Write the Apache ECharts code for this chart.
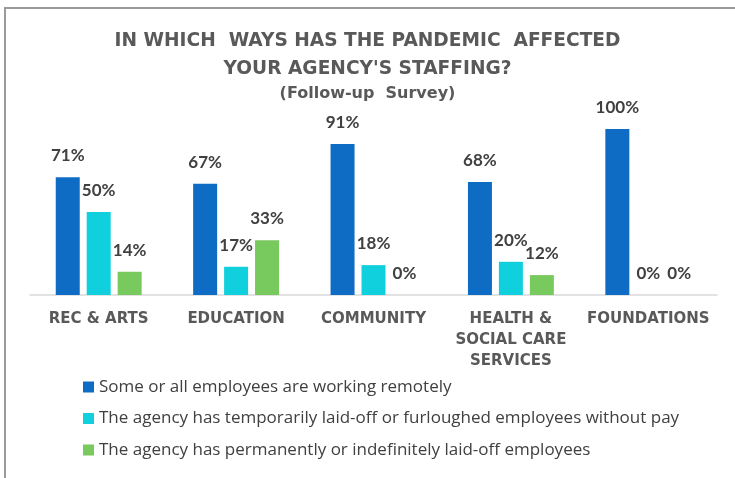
<!DOCTYPE html>
<html>
<head>
<meta charset="utf-8">
<script src="https://cdn.jsdelivr.net/npm/echarts@6/dist/echarts.min.js"></script>
<style>
  html, body { margin: 0; padding: 0; background: #fff; }
  #chart { width: 735px; height: 478px; }
</style>
</head>
<body>
<div id="chart"></div>
<script>
// Sectors surveyed
const categories = ['REC & ARTS', 'EDUCATION', 'COMMUNITY', 'HEALTH &\nSOCIAL CARE\nSERVICES', 'FOUNDATIONS'];

// Share of agencies (%) reporting each staffing change
const seriesNames = [
  'Some or all employees are working remotely',
  'The agency has temporarily laid-off or furloughed employees without pay',
  'The agency has permanently or indefinitely laid-off employees'
];
const remoteWork = [71, 67, 91, 68, 100];
const temporaryLayoffs = [50, 17, 18, 20, 0];
const permanentLayoffs = [14, 33, 0, 12, 0];

const colors = ['#0f6cc4', '#0fd0dc', '#78c95e'];

const chart = echarts.init(document.getElementById('chart'));

function barSeries(idx, values) {
  return {
    name: seriesNames[idx],
    type: 'bar',
    data: values,
    barWidth: 24,
    barGap: '29%',
    itemStyle: { color: colors[idx] },
    label: {
      show: true,
      position: 'top',
      distance: 13,
      formatter: '{c}%',
      color: '#404040',
      fontFamily: 'Lato',
      fontWeight: 'bold',
      fontSize: 17
    }
  };
}

chart.setOption({
  animation: false,
  backgroundColor: '#ffffff',
  color: colors,
  title: [
    {
      text: "IN WHICH  WAYS HAS THE PANDEMIC  AFFECTED\nYOUR AGENCY'S STAFFING?",
      left: 'center',
      top: 22,
      textStyle: {
        color: '#595959',
        fontFamily: 'DejaVu Sans',
        fontWeight: 'bold',
        fontSize: 18.6,
        lineHeight: 28
      }
    },
    {
      text: '(Follow-up  Survey)',
      left: 'center',
      top: 81,
      textStyle: {
        color: '#595959',
        fontFamily: 'DejaVu Sans',
        fontWeight: 'bold',
        fontSize: 16
      }
    }
  ],
  grid: { left: 30, right: 18, top: 129, bottom: 183, containLabel: false },
  xAxis: {
    type: 'category',
    data: categories,
    axisLine: { lineStyle: { color: '#d9d9d9', width: 1.5 } },
    axisTick: { show: false },
    axisLabel: {
      interval: 0,
      margin: 14,
      color: '#595959',
      fontFamily: 'DejaVu Sans',
      fontWeight: 'bold',
      fontSize: 15,
      lineHeight: 21
    }
  },
  yAxis: {
    type: 'value',
    min: 0,
    max: 100,
    show: false
  },
  legend: {
    orient: 'vertical',
    left: 83,
    top: 378,
    padding: 0,
    itemWidth: 11,
    itemHeight: 11,
    itemGap: 13.5,
    icon: 'rect',
    textStyle: {
      color: '#404040',
      fontFamily: 'Open Sans',
      fontSize: 17,
      lineHeight: 18
    }
  },
  series: [
    barSeries(0, remoteWork),
    barSeries(1, temporaryLayoffs),
    barSeries(2, permanentLayoffs)
  ],
  graphic: [
    { type: 'line', shape: { x1: 4, y1: 8, x2: 735, y2: 8 }, style: { stroke: '#9a9a9a', lineWidth: 2 } },
    { type: 'line', shape: { x1: 5, y1: 7, x2: 5, y2: 478 }, style: { stroke: '#9a9a9a', lineWidth: 2 } }
  ]
});
</script>
</body>
</html>
